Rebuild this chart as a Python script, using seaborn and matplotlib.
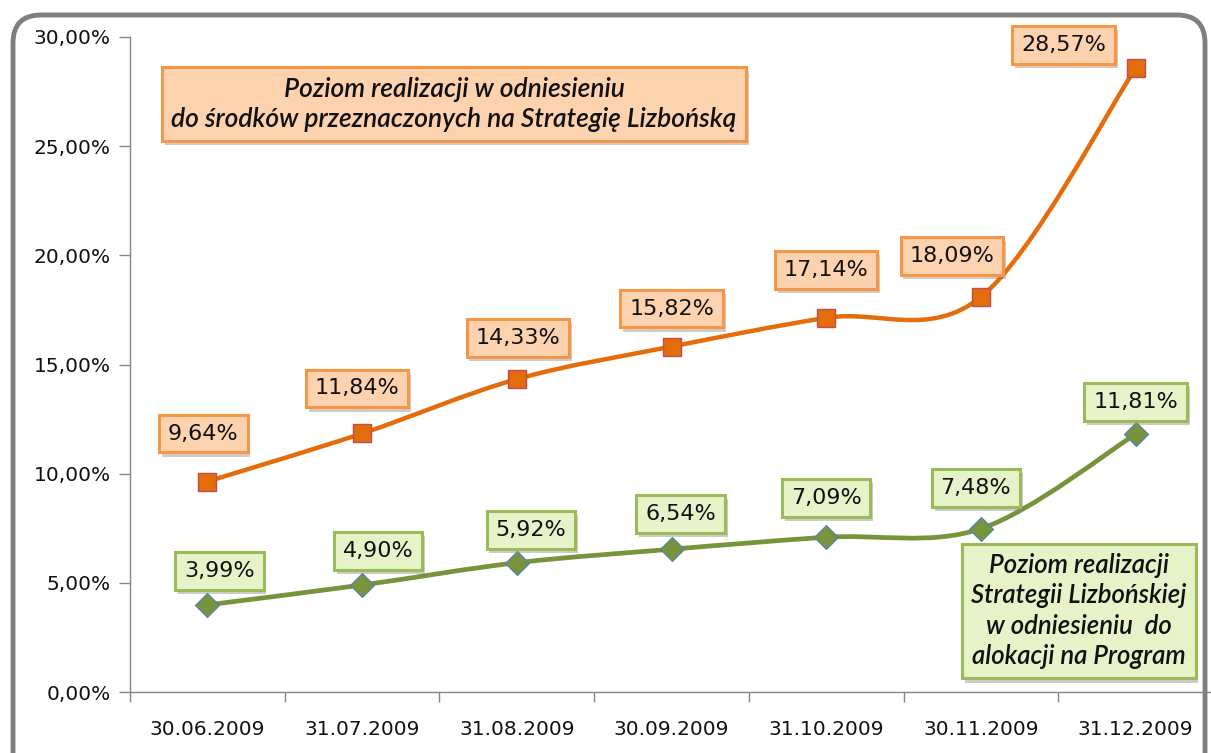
import numpy as np
import pandas as pd
import matplotlib
matplotlib.use("Agg")
import matplotlib.pyplot as plt
import matplotlib.patheffects as pe
from matplotlib.path import Path
from matplotlib.patches import PathPatch, FancyBboxPatch
from matplotlib.transforms import IdentityTransform
from matplotlib.ticker import FuncFormatter, MultipleLocator
import seaborn as sns

# dane
daty = ["30.06.2009", "31.07.2009", "31.08.2009", "30.09.2009",
        "31.10.2009", "30.11.2009", "31.12.2009"]
srodki_sl = [9.64, 11.84, 14.33, 15.82, 17.14, 18.09, 28.57]   # % srodkow na Strategie Lizbonska
alokacja = [3.99, 4.90, 5.92, 6.54, 7.09, 7.48, 11.81]         # % alokacji na Program

opis_pomaranczowy = "Poziom realizacji w odniesieniu\ndo środków przeznaczonych na Strategię Lizbońską"
opis_zielony = "Poziom realizacji\nStrategii Lizbońskiej\nw odniesieniu  do\nalokacji na Program"

# przesuniecia etykiet (piksele)
off_pom = [(-4, 48), (-5, 45), (1, 41), (0, 38), (0, 48), (-29, 41), (-72, 23)]
off_ziel = [(12, 34), (16, 34), (14, 33), (9, 35), (0, 39), (-5, 41), (0, 32)]

POM = "#E46C0A"
ZIEL = "#77933C"

sns.set_theme(style="white")
plt.rcParams["font.family"] = ["DejaVu Sans"]

df = pd.DataFrame({"data": daty, "srodki": srodki_sl, "alokacja": alokacja})

fig = plt.figure(figsize=(12.11, 7.53), dpi=100)
ax = fig.add_axes([130 / 1211, 61 / 753, 1083 / 1211, 655 / 753])


def gladka_linia(ys, kolor, lw):
    # krzywa Catmull-Rom jak "wygladzona linia" w Excelu
    xs = np.arange(len(ys), dtype=float)
    pts = np.column_stack([xs, ys])
    verts = [pts[0]]
    codes = [Path.MOVETO]
    n = len(pts)
    for i in range(n - 1):
        p0 = pts[max(i - 1, 0)]
        p1 = pts[i]
        p2 = pts[i + 1]
        p3 = pts[min(i + 2, n - 1)]
        c1 = p1 + (p2 - p0) / 6
        c2 = p2 - (p3 - p1) / 6
        verts += [c1, c2, p2]
        codes += [Path.CURVE4] * 3
    ax.add_patch(PathPatch(Path(verts, codes), fill=False, edgecolor=kolor,
                           lw=lw, capstyle="round", zorder=2))


gladka_linia(srodki_sl, POM, 3.2)
gladka_linia(alokacja, ZIEL, 3.4)

sns.scatterplot(data=df, x="data", y="srodki", marker="s", s=170, color=POM,
                edgecolor="#C0504D", linewidth=1, zorder=3, ax=ax)
sns.scatterplot(data=df, x="data", y="alokacja", marker="D", s=150, color=ZIEL,
                edgecolor="#4F81BD", linewidth=0.8, zorder=3, ax=ax)

cien = [pe.withSimplePatchShadow(offset=(2, -3), shadow_rgbFace="#808080", alpha=0.4)]


def etykiety(ys, offs, face, edge):
    for i, (y, o) in enumerate(zip(ys, offs)):
        t = ax.annotate(f"{y:.2f}%".replace(".", ","), (i, y), xytext=o,
                        textcoords="offset pixels", ha="center", va="center",
                        fontsize=16, color="#111111", zorder=5,
                        bbox=dict(boxstyle="square,pad=0.4", fc=face, ec=edge, lw=2.2))
        t.get_bbox_patch().set_path_effects(cien)


etykiety(srodki_sl, off_pom, "#FDD2AE", "#F79646")
etykiety(alokacja, off_ziel, "#E6F3C8", "#9BBB59")

# opisy serii
t1 = fig.text(454 / 1211, 1 - 104 / 753, opis_pomaranczowy, ha="center", va="center",
              family=["Lato", "DejaVu Sans"], style="italic", weight="semibold",
              fontsize=19, linespacing=1.25, color="#111111", zorder=6,
              bbox=dict(boxstyle="square,pad=0.35", fc="#FDD2AE", ec="#F79646", lw=2.2))
t1.get_bbox_patch().set_path_effects(cien)
t2 = fig.text(1079 / 1211, 1 - 611 / 753, opis_zielony, ha="center", va="center",
              family=["Lato", "DejaVu Sans"], style="italic", weight="semibold",
              fontsize=18.5, linespacing=1.28, color="#111111", zorder=6,
              bbox=dict(boxstyle="square,pad=0.35", fc="#E6F3C8", ec="#9BBB59", lw=2.2))
t2.get_bbox_patch().set_path_effects(cien)

# osie
ax.set_xlim(-0.5, len(daty) - 0.5)
ax.set_ylim(0, 30)
ax.yaxis.set_major_locator(MultipleLocator(5))
ax.yaxis.set_major_formatter(FuncFormatter(lambda v, p: f"{v:.2f}%".replace(".", ",")))
ax.set_xticks(range(len(daty)))
ax.set_xticklabels(daty)
ax.set_xticks(np.arange(-0.5, len(daty), 1), minor=True)
ax.tick_params(axis="x", which="major", length=0, pad=20, labelsize=14.5, labelcolor="#111111")
ax.tick_params(axis="x", which="minor", length=7, width=1, color="#868686", direction="out", bottom=True)
ax.tick_params(axis="y", length=8, width=1, color="#868686", direction="out", left=True,
               pad=6, labelsize=14.5, labelcolor="#111111")
ax.set_xlabel("")
ax.set_ylabel("")
for s in ["top", "right"]:
    ax.spines[s].set_visible(False)
for s in ["left", "bottom"]:
    ax.spines[s].set_color("#868686")
    ax.spines[s].set_linewidth(1)
ax.set_facecolor("none")

# zaokraglona ramka wykresu
ramka = FancyBboxPatch((13, -40), 1192, 778, boxstyle="round,pad=0,rounding_size=28",
                       transform=IdentityTransform(), fill=False, ec="#7F7F7F", lw=3.5, zorder=0)
fig.add_artist(ramka)

fig.savefig("out.png", dpi=100)
